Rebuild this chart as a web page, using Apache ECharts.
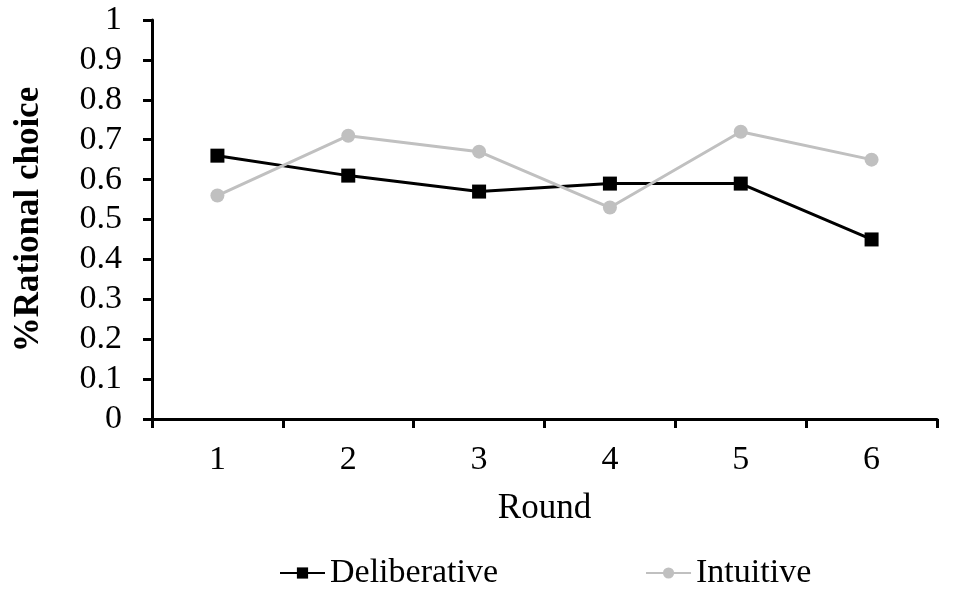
<!DOCTYPE html>
<html>
<head>
<meta charset="utf-8">
<script src="https://cdn.jsdelivr.net/npm/echarts@6/dist/echarts.min.js"></script>
<style>
  html, body { margin: 0; padding: 0; background: #fff; }
  #chart { width: 956px; height: 598px; }
</style>
</head>
<body>
<div id="chart"></div>
<script>
'use strict';
const rounds = ['1', '2', '3', '4', '5', '6'];
const deliberative = [0.66, 0.61, 0.57, 0.59, 0.59, 0.45];
const intuitive = [0.56, 0.71, 0.67, 0.53, 0.72, 0.65];
const yTicks = [0, 0.1, 0.2, 0.3, 0.4, 0.5, 0.6, 0.7, 0.8, 0.9, 1];

let font = '"Liberation Serif", "Times New Roman", serif';
let instance = echarts.init(document.getElementById('chart'));
instance.setOption({
    animation: false,
    textStyle: { fontFamily: font },
    grid: {
        left: 152,
        right: 19,
        top: 20,
        bottom: 179
    },
    legend: {
        top: 551,
        left: 274,
        itemGap: 147,
        itemWidth: 45,
        itemHeight: 14,
        textStyle: { fontFamily: font, fontSize: 34, color: '#000' },
        data: ['Deliberative', 'Intuitive']
    },
    xAxis: {
        type: 'category',
        data: rounds,
        boundaryGap: true,
        name: 'Round',
        nameLocation: 'middle',
        nameGap: 72,
        nameTextStyle: { fontFamily: font, fontSize: 35, color: '#000' },
        axisLine: { lineStyle: { color: '#000', width: 3 } },
        axisTick: { show: true, length: 9, lineStyle: { color: '#000', width: 3 } },
        axisLabel: { fontFamily: font, fontSize: 34, color: '#000', margin: 24 },
        splitLine: { show: false }
    },
    yAxis: {
        type: 'value',
        min: 0,
        max: 1,
        interval: 0.1,
        name: '%Rational choice',
        nameLocation: 'middle',
        nameGap: 106,
        nameTextStyle: { fontFamily: font, fontSize: 35, fontWeight: 'bold', color: '#000' },
        axisLine: { show: true, lineStyle: { color: '#000', width: 3 } },
        axisTick: { show: true, length: 9, lineStyle: { color: '#000', width: 3 } },
        axisLabel: {
            fontFamily: font, fontSize: 34, color: '#000', margin: 30,
            formatter: (v) => {
                let t = yTicks.find((k) => Math.abs(k - v) < 1e-6);
                return t === undefined ? '' : String(t);
            }
        },
        splitLine: { show: false }
    },
    series: [
        {
            name: 'Deliberative',
            type: 'line',
            data: deliberative,
            symbol: 'rect',
            symbolSize: 14,
            itemStyle: { color: '#000' },
            lineStyle: { color: '#000', width: 3 }
        },
        {
            name: 'Intuitive',
            type: 'line',
            data: intuitive,
            symbol: 'circle',
            symbolSize: 14,
            itemStyle: { color: '#c0c0c0' },
            lineStyle: { color: '#c0c0c0', width: 3 }
        }
    ]
});
</script>
</body>
</html>
